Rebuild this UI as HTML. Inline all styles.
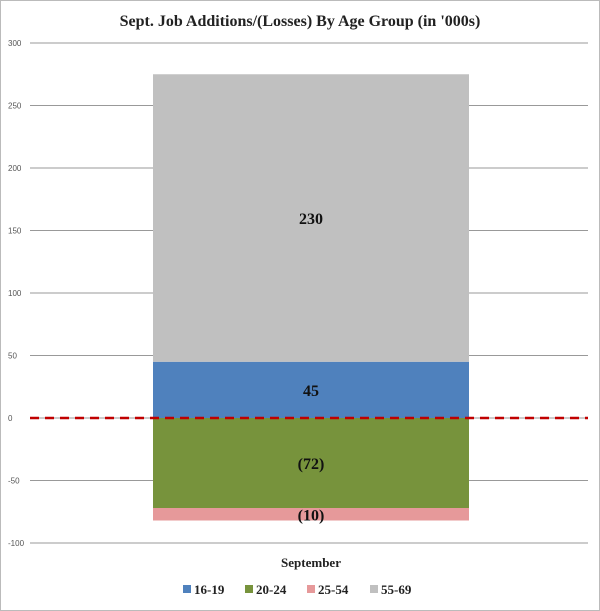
<!DOCTYPE html>
<html><head><meta charset="utf-8"><style>
html,body{margin:0;padding:0;background:#fff;}
svg{display:block;}
</style></head><body>
<svg id="chart" width="600" height="611" xmlns="http://www.w3.org/2000/svg">
<rect x="0.5" y="0.5" width="599" height="610" fill="#fff" stroke="#bbb"/>
<text x="300" y="26" text-anchor="middle" font-family="Liberation Serif, serif" font-weight="bold" font-size="16" fill="#222">Sept. Job Additions/(Losses) By Age Group (in '000s)</text>
<g id="grid"></g><g id="bars"></g><g id="labels"></g>
<line x1="30" x2="588" y1="418" y2="418" stroke="#c00000" stroke-width="2.5" stroke-dasharray="9,6"/>
<text x="311" y="567" text-anchor="middle" font-family="Liberation Serif, serif" font-weight="bold" font-size="13" fill="#222">September</text>
<g id="legend"></g>
</svg>
<script>
const ticks=[-100,-50,0,50,100,150,200,250,300];
const seriesNames=["16-19","20-24","25-54","55-69"];
const seriesValues=[45,-72,-10,230];
const seriesLabels=["45","(72)","(10)","230"];
const colors=["#4f81bd","#77933c","#e6999a","#c0c0c0"];
const NS="http://www.w3.org/2000/svg";
const y=v=>418-v*1.25;
function mk(t,a,p){const e=document.createElementNS(NS,t);for(const k in a)e.setAttribute(k,a[k]);p.appendChild(e);return e;}
const grid=document.getElementById('grid');
ticks.forEach(t=>{
  const l=mk('line',{x1:30,x2:588,y1:y(t),y2:y(t),stroke:'#999','stroke-width':1},grid);
  
  
  const tx=mk('text',{x:8,y:y(t)+3,'font-family':'Liberation Sans, sans-serif','font-size':8,fill:'#555'},grid);
  
  
  tx.textContent=t;
});
const bars=document.getElementById('bars'),labels=document.getElementById('labels');
let pos=0,neg=0;
seriesValues.forEach((v,i)=>{
  let a,b;
  if(v>=0){a=pos;b=pos+v;pos=b;}else{a=neg;b=neg+v;neg=b;}
  const top=y(Math.max(a,b)),h=Math.abs(v)*1.25;
  const r=mk('rect',{x:153,y:top,width:316,height:h,fill:colors[i]},bars);
  
  
  const t=mk('text',{x:311,y:top+h/2+6,'text-anchor':'middle','font-family':'Liberation Serif, serif','font-weight':'bold','font-size':16,fill:'#111'},labels);
  
  
  t.textContent=seriesLabels[i];
});
const lg=document.getElementById('legend');
const lx=[183,245,307,370];
seriesNames.forEach((n,i)=>{
  const r=mk('rect',{x:lx[i],y:585,width:8,height:8,fill:colors[i]},lg);
  
  
  const t=mk('text',{x:lx[i]+11,y:594,'font-family':'Liberation Serif, serif','font-weight':'bold','font-size':13,fill:'#222'},lg);
  
  
  t.textContent=n;
});
</script>
</body></html>
